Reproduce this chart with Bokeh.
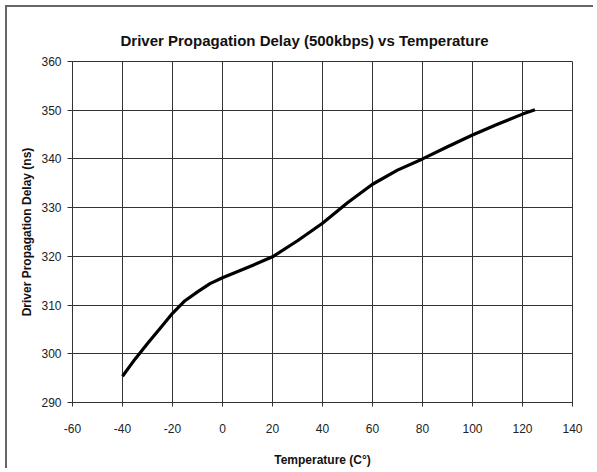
from bokeh.plotting import figure
from bokeh.embed import file_html
from bokeh.resources import INLINE
from bokeh.models import FixedTicker, Range1d, Title

temperature = [-40, -35, -30, -25, -20, -15, -10, -5, 0, 10, 20, 30, 40, 50, 60,
               70, 80, 90, 100, 110, 120, 125]
delay_ns = [295.4, 298.9, 302.1, 305.2, 308.3, 310.9, 312.7, 314.4, 315.6, 317.7,
            319.9, 323.2, 326.8, 331.0, 334.8, 337.7, 340.0, 342.5, 344.9, 347.1,
            349.2, 350.1]
x_ticks = [-60, -40, -20, 0, 20, 40, 60, 80, 100, 120, 140]
y_ticks = [290, 300, 310, 320, 330, 340, 350, 360]

FONT = "Liberation Sans"

p = figure(width=588, height=463, output_backend="svg", toolbar_location=None,
           x_range=Range1d(-60, 140), y_range=Range1d(290, 360),
           title="Driver Propagation Delay (500kbps) vs Temperature",
           min_border_left=65, min_border_right=23, min_border_top=54, min_border_bottom=68)

p.styles = {"border-top": "2px solid #666666", "border-left": "2px solid #666666",
            "margin-left": "5px", "margin-top": "5px"}

p.add_layout(Title(text=" ", text_font_size="5px", standoff=0), "above")

p.title.align = "left"
p.title.offset = 48
p.title.text_font = FONT
p.title.text_font_size = "15px"
p.title.text_font_style = "bold"
p.title.text_color = "#111111"

p.line(temperature, delay_ns, line_color="black", line_width=3.2, line_join="round")

p.xaxis.ticker = FixedTicker(ticks=x_ticks)
p.yaxis.ticker = FixedTicker(ticks=y_ticks)
p.xaxis.major_label_overrides = {t: str(t) for t in x_ticks}
p.yaxis.major_label_overrides = {t: str(t) for t in y_ticks}
p.xaxis.minor_tick_line_color = None
p.yaxis.minor_tick_line_color = None

for ax in (p.xaxis[0], p.yaxis[0]):
    ax.axis_line_color = "#333333"
    ax.major_tick_line_color = "#333333"
    ax.major_tick_in = 0
    ax.major_label_text_font = FONT
    ax.major_label_text_font_size = "12px"
    ax.major_label_text_color = "#222222"
    ax.axis_label_text_font = FONT
    ax.axis_label_text_font_size = "12px"
    ax.axis_label_text_font_style = "bold"
    ax.axis_label_text_color = "#111111"

p.xaxis.major_tick_out = 4
p.yaxis.major_tick_out = 5
p.xaxis.major_label_standoff = 17
p.yaxis.major_label_standoff = 6
p.xaxis.axis_label = "Temperature (C°)"
p.yaxis.axis_label = "Driver Propagation Delay (ns)"
p.xaxis.axis_label_standoff = 17
p.yaxis.axis_label_standoff = 4

p.grid.grid_line_color = "#333333"
p.grid.grid_line_alpha = 1.0
p.grid.grid_line_width = 1
p.outline_line_color = "#333333"
p.outline_line_alpha = 1.0

open("out.html", "w").write(file_html(p, INLINE))
